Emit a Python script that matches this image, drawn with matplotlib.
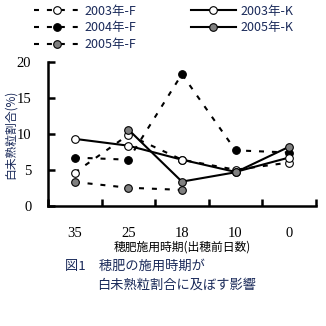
import matplotlib.pyplot as plt
import numpy as np

plt.rcParams['font.family'] = ['Noto Sans CJK JP', 'DejaVu Sans']

# ── Data ───────────────────────────────────────────────
days = ['35', '25', '18', '10', '0']
f2003 = [4.6, 9.85, 6.4, 5.0, 6.0]
k2003 = [9.3, 8.35, 6.4, 4.7, 6.7]
f2004 = [6.7, 6.4, 18.3, 7.7, 7.4]
k2005 = [np.nan, 10.6, 3.35, 4.65, 8.2]
f2005 = [3.3, 2.5, 2.2, np.nan, np.nan]

x = np.arange(len(days)) + 0.5
txt = '#1a2a5a'
serif = ['Liberation Serif']

fig = plt.figure(figsize=(3.26, 3.26), dpi=100)
ax = fig.add_axes([0.147, 0.369, 0.822, 0.441])

dash = (0, (2.4, 3.8))
mk = dict(marker='o', markersize=5.5, markeredgecolor='black', markeredgewidth=0.8,
          color='black', lw=1.5)

l1, = ax.plot(x, f2003, linestyle=dash, markerfacecolor='white', label='2003年-F', **mk)
l3, = ax.plot(x, f2004, linestyle=dash, markerfacecolor='black', label='2004年-F', **mk)
l5, = ax.plot(x, f2005, linestyle=dash, markerfacecolor='#808080', label='2005年-F', **mk)
l2, = ax.plot(x, k2003, linestyle='-', markerfacecolor='white', label='2003年-K', **mk)
l4, = ax.plot(x, k2005, linestyle='-', markerfacecolor='#808080', label='2005年-K', **mk)

ax.set_xlim(0, 5)
ax.set_ylim(0, 20)
ax.set_xticks(np.arange(0, 6))
ax.set_xticklabels([])
ax.set_xticks(x, minor=True)
ax.set_xticklabels(days, minor=True, family=serif, fontsize=10.5)
ax.tick_params(axis='x', which='major', direction='in', length=5, width=1.8)
ax.tick_params(axis='x', which='minor', length=0, pad=15)
ax.set_yticks([0, 5, 10, 15, 20])
ax.set_yticklabels(['0', '5', '10', '15', '20'], family=serif, fontsize=10.5)
ax.tick_params(axis='y', direction='in', length=5, width=1.8, pad=12)

for s in ['top', 'right']:
    ax.spines[s].set_visible(False)
for s in ['left', 'bottom']:
    ax.spines[s].set_linewidth(1.8)

ax.set_ylabel('白未熟粒割合(%)', fontsize=8.5, color=txt, labelpad=0)
ax.set_xlabel('穂肥施用時期(出穂前日数)', fontsize=8.5, labelpad=1)

fig.legend(handles=[l1, l3, l5, l2, l4], ncol=2, loc='upper left',
           bbox_to_anchor=(0.07, 1.02), frameon=False,
           handlelength=3.6, columnspacing=4.4, labelspacing=0.3,
           handletextpad=0.4, labelcolor=txt,
           prop={'family': ['Noto Sans CJK JP'], 'size': 9})

fig.text(0.2, 0.172, '図1　穂肥の施用時期が', fontsize=9.5, color=txt)
fig.text(0.297, 0.113, '白未熟粒割合に及ぼす影響', fontsize=9.5, color=txt)

plt.savefig('out.png', dpi=100)
